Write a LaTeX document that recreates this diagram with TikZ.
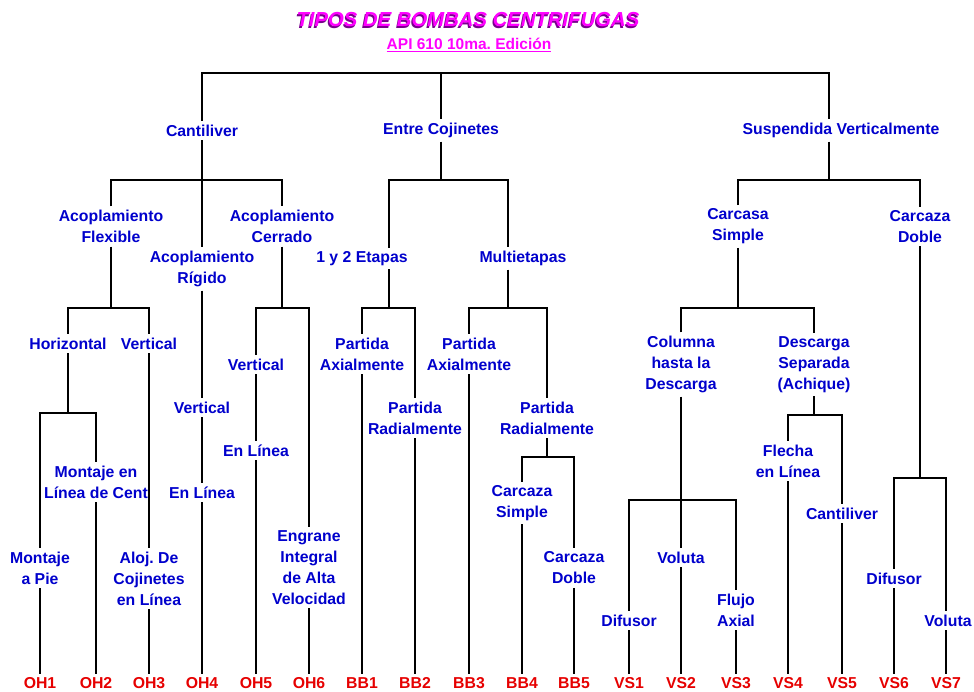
\documentclass[tikz,border=0pt]{standalone}
\usepackage{fontspec}
\setmainfont{Liberation Sans}
\usepackage{tikz}
\frenchspacing

\definecolor{azul}{RGB}{0,0,204}
\definecolor{rojo}{RGB}{230,0,0}
\definecolor{rosa}{RGB}{255,0,255}
\definecolor{morado}{RGB}{120,0,140}

\begin{document}
\begin{tikzpicture}[x=1pt,y=-1pt,
    lbl/.style={text=azul,font=\fontsize{15.8}{21}\selectfont\bfseries,align=center,inner sep=3pt,yshift=-1.5pt},
    leaf/.style={text=rojo,font=\fontsize{15.8}{21}\selectfont\bfseries,inner sep=3pt},
    every path/.style={line width=1.6pt}]

    \useasboundingbox (0,0) rectangle (974,691);

    % titulo
    \node[text=morado,font=\fontsize{20.3}{24}\selectfont\bfseries\itshape] (sombra) at (466.8,21.2) {TIPOS DE BOMBAS CENTRIFUGAS};
    \node[text=rosa,font=\fontsize{20.3}{24}\selectfont\bfseries\itshape] (titulo) at (468,20) {TIPOS DE BOMBAS CENTRIFUGAS};
    \node[text=rosa,font=\fontsize{15.5}{18}\selectfont\bfseries] (api) at (469,45) {\underline{API 610 10ma. Edición}};

    % niveles
    \node[lbl] (cant) at (202,129) {Cantiliver};
    \node[lbl] (entre) at (441,129) {Entre Cojinetes};
    \node[lbl] (susp) at (841,129) {Suspendida Verticalmente};

    \node[lbl] (flex) at (111,225) {Acoplamiento\\Flexible};
    \node[lbl] (rig) at (202,267.5) {Acoplamiento\\Rígido};
    \node[lbl] (cerr) at (282,225) {Acoplamiento\\Cerrado};
    \node[lbl] (etapas) at (362,257) {1 y 2 Etapas};
    \node[lbl] (multi) at (523,257) {Multietapas};
    \node[lbl] (csimp) at (738,225) {Carcasa\\Simple};
    \node[lbl] (cdob) at (920,225) {Carcaza\\Doble};

    \node[lbl] (hor) at (68,342) {Horizontal};
    \node[lbl] (vert1) at (149,342) {Vertical};
    \node[lbl] (vert2) at (202,406) {Vertical};
    \node[lbl] (vert3) at (256,363) {Vertical};
    \node[lbl] (axial1) at (362,352.5) {Partida\\Axialmente};
    \node[lbl] (radial1) at (415,416.5) {Partida\\Radialmente};
    \node[lbl] (axial2) at (469,352.5) {Partida\\Axialmente};
    \node[lbl] (radial2) at (547,416.5) {Partida\\Radialmente};
    \node[lbl] (columna) at (681,363) {Columna\\hasta la\\Descarga};
    \node[lbl] (descarga) at (814,363) {Descarga\\Separada\\(Achique)};

    \node[lbl] (pie) at (40,566.5) {Montaje\\a Pie};
    \node[lbl] (cent) at (96,480.5) {Montaje en\\Línea de Cent};
    \node[lbl] (aloj) at (149,577) {Aloj. De\\Cojinetes\\en Línea};
    \node[lbl] (linea1) at (202,491) {En Línea};
    \node[lbl] (linea2) at (256,449) {En Línea};
    \node[lbl] (engrane) at (309,566) {Engrane\\Integral\\de Alta\\Velocidad};
    \node[lbl] (csimp2) at (522,501.5) {Carcaza\\Simple};
    \node[lbl] (cdob2) at (574,566.5) {Carcaza\\Doble};
    \node[lbl] (dif1) at (629,619) {Difusor};
    \node[lbl] (vol1) at (681,556) {Voluta};
    \node[lbl] (flujo) at (736,608.5) {Flujo\\Axial};
    \node[lbl] (flecha) at (788,459.5) {Flecha\\en Línea};
    \node[lbl] (cantv) at (842,512) {Cantiliver};
    \node[lbl] (dif2) at (894,577) {Difusor};
    \node[lbl] (vol2) at (948,619) {Voluta};

    % tipos
    \node[leaf] (oh1) at (40,683) {OH1};
    \node[leaf] (oh2) at (96,683) {OH2};
    \node[leaf] (oh3) at (149,683) {OH3};
    \node[leaf] (oh4) at (202,683) {OH4};
    \node[leaf] (oh5) at (256,683) {OH5};
    \node[leaf] (oh6) at (309,683) {OH6};
    \node[leaf] (bb1) at (362,683) {BB1};
    \node[leaf] (bb2) at (415,683) {BB2};
    \node[leaf] (bb3) at (469,683) {BB3};
    \node[leaf] (bb4) at (522,683) {BB4};
    \node[leaf] (bb5) at (574,683) {BB5};
    \node[leaf] (vs1) at (629,683) {VS1};
    \node[leaf] (vs2) at (681,683) {VS2};
    \node[leaf] (vs3) at (736,683) {VS3};
    \node[leaf] (vs4) at (788,683) {VS4};
    \node[leaf] (vs5) at (842,683) {VS5};
    \node[leaf] (vs6) at (894,683) {VS6};
    \node[leaf] (vs7) at (946,683) {VS7};

    % alturas de las barras
    \coordinate (top) at (441,73);
    \coordinate (xs) at (829,0);
    \coordinate (xv) at (946,0);
    \coordinate (e1) at (389,180);
    \coordinate (e2) at (508,180);
    \coordinate (b1) at (0,180);
    \coordinate (b2) at (0,308);
    \coordinate (b3) at (0,413);
    \coordinate (b4) at (0,457);
    \coordinate (b5) at (0,500);
    \coordinate (b6) at (0,415);
    \coordinate (b7) at (0,478);

    \draw (cant.north) -- (cant.north |- top) -- (top -| xs) -- (susp.north -| xs);
    \draw (top) -- (entre.north);

    % Cantiliver
    \draw (cant.south) -- (rig.north);
    \draw (flex.north) -- (flex.north |- b1) -- (cerr.north |- b1) -- (cerr.north);
    \draw (flex.south) -- (flex.south |- b2);
    \draw (hor.north) -- (hor.north |- b2) -- (vert1.north |- b2) -- (vert1.north);
    \draw (hor.south) -- (hor.south |- b3);
    \draw (pie.north) -- (pie.north |- b3) -- (cent.north |- b3) -- (cent.north);
    \draw (pie.south) -- (oh1.north);
    \draw (cent.south) -- (oh2.north);
    \draw (vert1.south) -- (aloj.north);
    \draw (aloj.south) -- (oh3.north);
    \draw (rig.south) -- (vert2.north);
    \draw (vert2.south) -- (linea1.north);
    \draw (linea1.south) -- (oh4.north);
    \draw (cerr.south) -- (cerr.south |- b2);
    \draw (vert3.north) -- (vert3.north |- b2) -- (engrane.north |- b2) -- (engrane.north);
    \draw (vert3.south) -- (linea2.north);
    \draw (linea2.south) -- (oh5.north);
    \draw (engrane.south) -- (oh6.north);

    % Entre Cojinetes
    \draw (entre.south) -- (entre.south |- b1);
    \draw (etapas.north -| e1) -- (e1) -- (e2) -- (multi.north -| e2);
    \draw (etapas.south -| e1) -- (e1 |- b2);
    \draw (axial1.north) -- (axial1.north |- b2) -- (radial1.north |- b2) -- (radial1.north);
    \draw (axial1.south) -- (bb1.north);
    \draw (radial1.south) -- (bb2.north);
    \draw (multi.south -| e2) -- (e2 |- b2);
    \draw (axial2.north) -- (axial2.north |- b2) -- (radial2.north |- b2) -- (radial2.north);
    \draw (axial2.south) -- (bb3.north);
    \draw (radial2.south) -- (radial2.south |- b4);
    \draw (csimp2.north) -- (csimp2.north |- b4) -- (cdob2.north |- b4) -- (cdob2.north);
    \draw (csimp2.south) -- (bb4.north);
    \draw (cdob2.south) -- (bb5.north);

    % Suspendida Verticalmente
    \draw (susp.south -| xs) -- (xs |- b1);
    \draw (csimp.north) -- (csimp.north |- b1) -- (cdob.north |- b1) -- (cdob.north);
    \draw (csimp.south) -- (csimp.south |- b2);
    \draw (columna.north) -- (columna.north |- b2) -- (descarga.north |- b2) -- (descarga.north);
    \draw (columna.south) -- (vol1.north);
    \draw (dif1.north) -- (dif1.north |- b5) -- (flujo.north |- b5) -- (flujo.north);
    \draw (dif1.south) -- (vs1.north);
    \draw (vol1.south) -- (vs2.north);
    \draw (flujo.south) -- (vs3.north);
    \draw (descarga.south) -- (descarga.south |- b6);
    \draw (flecha.north) -- (flecha.north |- b6) -- (cantv.north |- b6) -- (cantv.north);
    \draw (flecha.south) -- (vs4.north);
    \draw (cantv.south) -- (vs5.north);
    \draw (cdob.south) -- (cdob.south |- b7);
    \draw (dif2.north) -- (dif2.north |- b7) -- (b7 -| xv) -- (vol2.north -| xv);
    \draw (dif2.south) -- (vs6.north);
    \draw (vol2.south -| xv) -- (vs7.north);

\end{tikzpicture}
\end{document}
